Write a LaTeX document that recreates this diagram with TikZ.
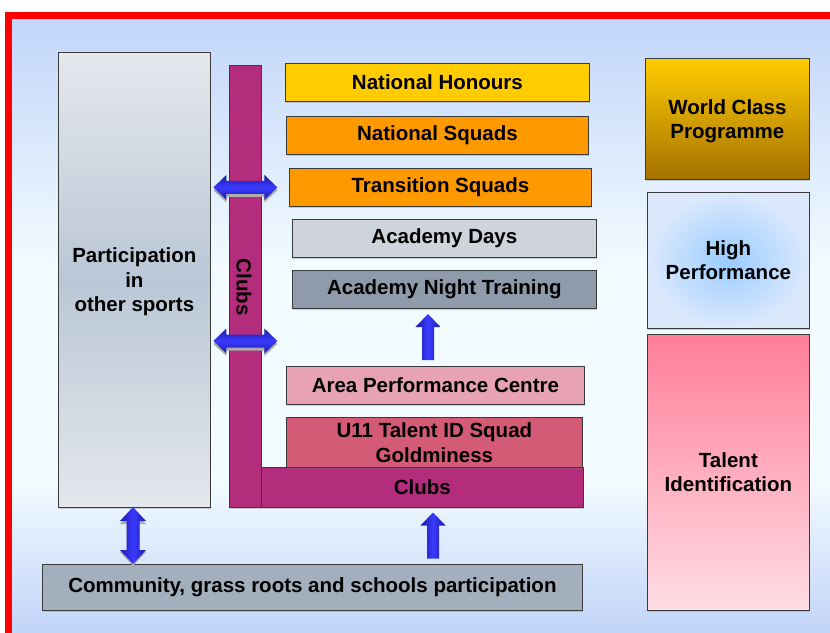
\documentclass[tikz,border=0pt]{standalone}
\usepackage{fontspec}
\setmainfont{Liberation Sans}
\usetikzlibrary{shadows}
\definecolor{bgTop}{HTML}{C1D5FA}
\definecolor{bgMid}{HTML}{F2FBFF}
\definecolor{bgBot}{HTML}{BDD1F8}
\definecolor{edge}{HTML}{3A3A3A}
\definecolor{clubc}{HTML}{B42C7C}
\definecolor{honc}{HTML}{FFCC00}
\definecolor{orc}{HTML}{FF9900}
\definecolor{adc}{HTML}{CED3DC}
\definecolor{antc}{HTML}{8F9BAB}
\definecolor{apcc}{HTML}{E8A2B6}
\definecolor{u11c}{HTML}{D35B75}
\definecolor{comc}{HTML}{A3AFBD}
\definecolor{arrD}{HTML}{1C1CA8}
\definecolor{arrL}{HTML}{3A3AFF}
\definecolor{partMid}{HTML}{BAC7D6}
\definecolor{partEnd}{HTML}{E5E8EC}
\definecolor{wcpBot}{HTML}{A47200}
\definecolor{hpIn}{HTML}{99CCFF}
\definecolor{hpOut}{HTML}{DCE9FD}
\definecolor{tidTop}{HTML}{FF7E98}
\definecolor{tidBot}{HTML}{FFDDE5}
\pgfdeclareverticalshading{bgshade}{100bp}{color(0bp)=(bgBot); color(25bp)=(bgBot); color(38bp)=(bgMid); color(55bp)=(bgMid); color(75bp)=(bgTop); color(100bp)=(bgTop)}
\tikzset{
  boxfont/.style={font=\bfseries\fontsize{20.5}{24.5}\selectfont},
  box/.style={draw=edge, line width=0.8pt, inner sep=0pt, anchor=north west, align=center, boxfont,
    drop shadow={shadow xshift=1pt, shadow yshift=-1.5pt, opacity=0.35}},
  arrshadow/.style={fill=gray!65},
  hshade/.style={top color=arrD, bottom color=arrD, middle color=arrL},
  vshade/.style={left color=arrD, right color=arrD, middle color=arrL},
  hdarr/.pic={
    \fill[arrshadow] (-32,3) -- (-19,-9) -- (-19,-3.5) -- (19,-3.5) -- (19,-9) -- (32,3) -- (19,15) -- (19,9.5) -- (-19,9.5) -- (-19,15) -- cycle;
    \shade[hshade] (-32,0) -- (-19,-12.5) -- (-19,-6.5) -- (19,-6.5) -- (19,-12.5) -- (32,0) -- (19,12.5) -- (19,6.5) -- (-19,6.5) -- (-19,12.5) -- cycle;
  },
  vdarr/.pic={
    \fill[arrshadow] (0,-25.5) -- (13,-11.5) -- (6.5,-11.5) -- (6.5,16.5) -- (13,16.5) -- (0,30.5) -- (-13,16.5) -- (-6.5,16.5) -- (-6.5,-11.5) -- (-13,-11.5) -- cycle;
    \shade[vshade] (0,-28.5) -- (13,-14.5) -- (6.5,-14.5) -- (6.5,14.5) -- (13,14.5) -- (0,28.5) -- (-13,14.5) -- (-6.5,14.5) -- (-6.5,-14.5) -- (-13,-14.5) -- cycle;
  },
  uparr/.pic={
    \shade[vshade] (0,-23) -- (12.5,-10) -- (6,-10) -- (6,23) -- (-6,23) -- (-6,-10) -- (-12.5,-10) -- cycle;
  }
}
\begin{document}
\begin{tikzpicture}[x=1pt,y=-1pt]
\useasboundingbox (0,0) rectangle (830,632);
\clip (0,0) rectangle (830,632);
% background and red frame
\shade[shading=bgshade] (8,15) rectangle (845,645);
\draw[red, line width=7pt] (8.5,15.5) rectangle (850,650);

% left participation box
\node[box, text depth=0pt, minimum width=152, minimum height=455, top color=partEnd, bottom color=partEnd, middle color=partMid] (part) at (58,52) {Participation\\in\\other sports};

% clubs bars
\node[box, fill=clubc, minimum width=32, minimum height=442] (clubv) at (229,65) {};
\node[box, fill=clubc, minimum width=322, minimum height=40] (clubh) at (261,467) {Clubs};
\node[boxfont, rotate=-90] (clubvt) at (244,287) {Clubs};

% central ladder
\node[box, fill=honc, minimum width=304, minimum height=38] (nh) at (285,63) {National Honours};
\node[box, fill=orc, minimum width=302, minimum height=38] (ns) at (286,116) {National Squads};
\node[box, fill=orc, minimum width=302, minimum height=38] (ts) at (289,168) {Transition Squads};
\node[box, fill=adc, minimum width=304, minimum height=38] (ad) at (292,219) {Academy Days};
\node[box, fill=antc, minimum width=304, minimum height=38] (ant) at (292,270) {Academy Night Training};
\node[box, fill=apcc, minimum width=298, minimum height=38] (apc) at (286,366) {Area Performance Centre};
\node[box, text depth=-4pt, fill=u11c, minimum width=296, minimum height=50] (u11) at (286,417) {U11 Talent ID Squad\\Goldminess};
\node[box, fill=comc, minimum width=540, minimum height=46] (com) at (42,564) {Community, grass roots and schools participation};

% right column
\node[box, text depth=0pt, top color=honc, bottom color=wcpBot, minimum width=164, minimum height=121] (wcp) at (645,58) {World Class\\Programme};
\node[box, inner color=hpIn, outer color=hpOut, minimum width=162, minimum height=136] (hp) at (647,192) {High\\Performance};
\node[box, top color=tidTop, bottom color=tidBot, minimum width=162, minimum height=276] (tid) at (647,334) {Talent\\Identification};

% arrows
\coordinate (a1) at (clubv.center |- ts.center);
\coordinate (a2) at (clubv.center |- 0,341);
\pic at (a1) {hdarr};
\pic at (a2) {hdarr};
\coordinate (a3) at (133,535.5);
\pic at (a3) {vdarr};
\coordinate (a4) at (428,337);
\coordinate (a5) at (433,535.5);
\pic at (a4) {uparr};
\pic at (a5) {uparr};
\end{tikzpicture}
\end{document}
